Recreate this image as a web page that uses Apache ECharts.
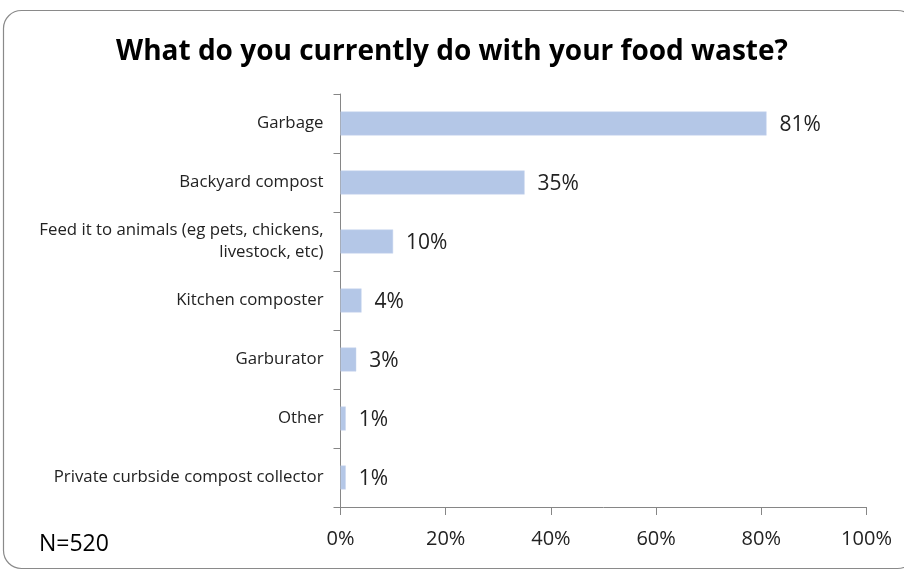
<!DOCTYPE html>
<html><head><meta charset="utf-8">
<script src="https://cdn.jsdelivr.net/npm/echarts@6/dist/echarts.min.js"></script>
<style>html,body{margin:0;padding:0;background:#fff}#c{width:904px;height:571px}</style>
</head><body><div id="c"></div>
<script>
const titleText = 'What do you currently do with your food waste?';
const categories = ['Garbage', 'Backyard compost', 'Feed it to animals (eg pets, chickens,\nlivestock, etc)', 'Kitchen composter', 'Garburator', 'Other', 'Private curbside compost collector'];
const values = [81, 35, 10, 4, 3, 1, 1];
const xTicks = [0, 20, 40, 60, 80, 100];
const noteText = 'N=520';

const chart = echarts.init(document.getElementById('c'), null, {renderer: 'canvas'});
const FONT = 'Open Sans';
chart.setOption({
  animation: false,
  backgroundColor: '#fff',
  title: {
    text: titleText, left: 'center', top: 33,
    textStyle: {fontFamily: FONT, fontWeight: 'bold', fontSize: 28, color: '#000'}
  },
  graphic: [
    {type: 'rect', shape: {x: 3.5, y: 10.5, width: 912, height: 558, r: 18},
     style: {fill: 'none', stroke: '#8a8a8a', lineWidth: 1.2}, z: -1},
    {type: 'text', left: 39, top: 533, style: {text: noteText, fontFamily: FONT, fontSize: 23, fill: '#000'}}
  ],
  grid: {left: 340.5, right: 37.5, top: 94, bottom: 64},
  xAxis: {
    type: 'value', min: xTicks[0], max: xTicks[xTicks.length - 1], interval: 20,
    axisLine: {show: true, lineStyle: {color: '#868686', width: 1}},
    axisTick: {show: true, length: 8, lineStyle: {color: '#868686'}},
    splitLine: {show: false},
    axisLabel: {formatter: '{value}%', fontFamily: FONT, fontSize: 20, color: '#222', margin: 22}
  },
  yAxis: {
    type: 'category', data: categories, inverse: true,
    axisLine: {show: true, lineStyle: {color: '#868686', width: 1}},
    axisTick: {show: true, length: 7, inside: false, lineStyle: {color: '#868686'}},
    axisLabel: {fontFamily: FONT, fontSize: 16.8, color: '#222', margin: 17, lineHeight: 22, align: 'right'}
  },
  series: [{
    type: 'bar', data: values, barWidth: 24,
    itemStyle: {color: '#b4c7e7', borderColor: '#c8d6ee', borderWidth: 0.5},
    label: {show: true, position: 'right', distance: 13, offset: [0, 2], formatter: '{c}%', fontFamily: FONT, fontSize: 21, color: '#222'}
  }]
});
</script></body></html>
